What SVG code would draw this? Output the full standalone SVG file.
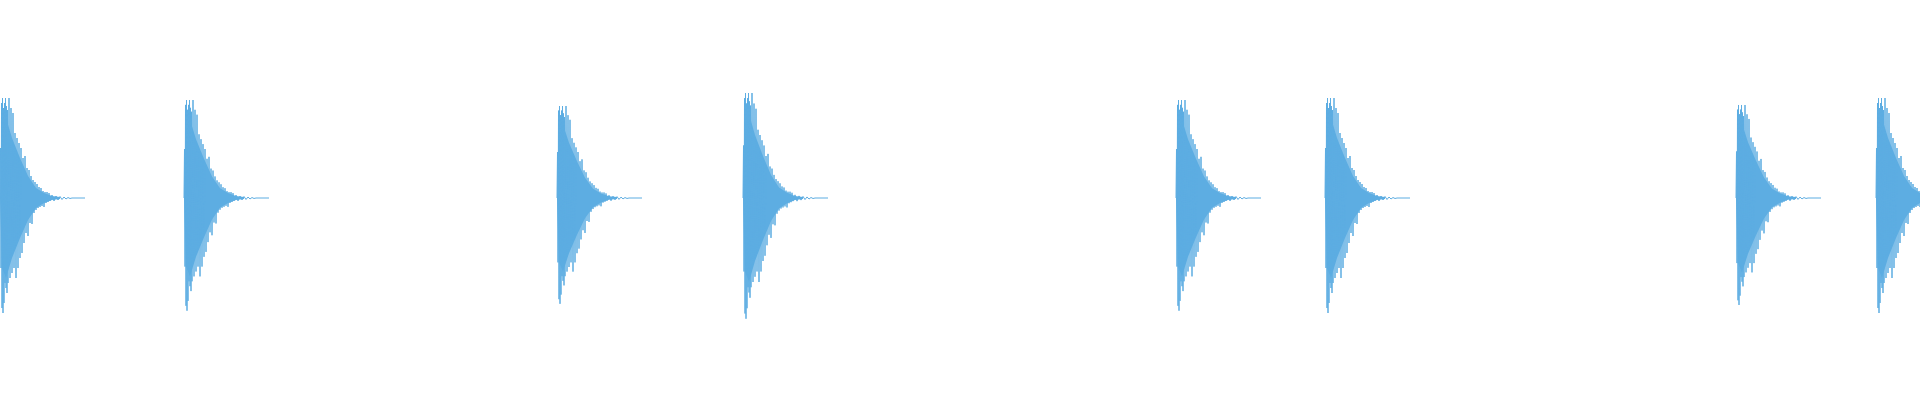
<svg xmlns="http://www.w3.org/2000/svg" width="1920" height="400" viewBox="0 0 1920 400">
<style>
.w{fill:none;stroke:#5dade2;stroke-width:1;vector-effect:non-scaling-stroke}
.c{fill:#5dade2}
</style>
<defs>
<g id="burst">
<path class="c" d="M0,0 L2,-70 L6,-80 L12,-60 L20,-40 L28,-22 L36,-10 L44,-5 L52,-2 L60,-1 L60,1 L52,2 L44,5 L36,10 L28,22 L20,40 L12,60 L6,80 L2,70 Z"/>
<path class="w" d="M0,0 L0.5,-50 L1,70 L1.5,-95 L2,110 L2.5,-100 L3,115 L3.5,-90 L4,105 L4.5,-95 L5,85 L5.5,-100 L6,90 L6.5,-92 L7,95 L7.5,-88 L8,85 L9,-100 L10,80 L11,-90 L12,75 L13,-85 L14,70 L15,-65 L16,80 L17,-60 L18,70 L19,-55 L20,60 L21,-50 L22,55 L23,-40 L24,45 L25,-42 L26,35 L27,-30 L28,38 L29,-28 L30,25 L31,-22 L32,26 L33,-18 L34,15 L35,-16 L36,12 L37,-14 L38,10 L39,-11 L40,9 L41,-10 L42,8 L43,-7 L44,9 L45,-6 L46,5 L47,-6 L48,4 L49,-5 L50,3 L52,-3 L54,3 L56,-2 L58,2 L60,-1.5 L62,1.5 L64,-1 L66,1 L68,-0.5 L70,0.5 L72,0 L85,0"/>
</g>
</defs>
<g id="waveform">
<use href="#burst" transform="translate(0,198) scale(1,1)"/>
<use href="#burst" transform="translate(184,198) scale(1,0.98)"/>
<use href="#burst" transform="translate(557,198) scale(1,0.92)"/>
<use href="#burst" transform="translate(743,198) scale(1,1.05)"/>
<use href="#burst" transform="translate(1176,198) scale(1,0.98)"/>
<use href="#burst" transform="translate(1325,198) scale(1,1.0)"/>
<use href="#burst" transform="translate(1736,198) scale(1,0.93)"/>
<use href="#burst" transform="translate(1876,198) scale(1,1.0)"/>
</g>
</svg>
